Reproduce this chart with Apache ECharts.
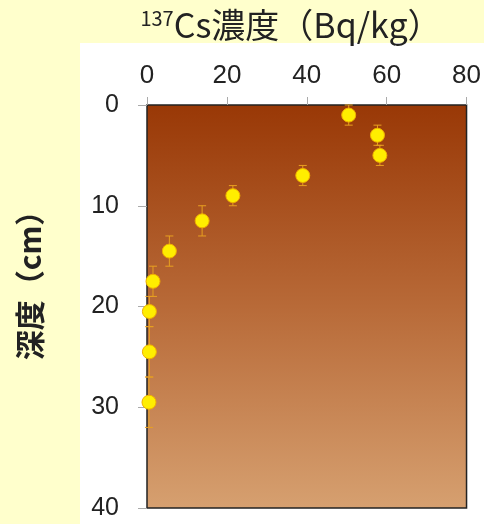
<!DOCTYPE html>
<html>
<head>
<meta charset="utf-8">
<script src="https://cdn.jsdelivr.net/npm/echarts@6/dist/echarts.min.js"></script>
<style>
html,body{margin:0;padding:0;background:#FFFFCC;}
#chart{width:484px;height:524px;}
</style>
</head>
<body>
<div id="chart"></div>
<script>
// Data
const concentration = [50.5, 57.7, 58.3, 39.0, 21.5, 13.8, 5.6, 1.5, 0.6, 0.6, 0.5]; // Bq/kg
const depth = [1.0, 3.0, 5.0, 7.0, 9.0, 11.5, 14.5, 17.5, 20.5, 24.5, 29.5]; // cm
const depthError = [1.0, 1.0, 1.0, 1.0, 1.0, 1.5, 1.5, 1.5, 1.5, 2.5, 2.5];
const xTicks = [0, 20, 40, 60, 80];
const yTicks = [0, 10, 20, 30, 40];

const points = concentration.map((c, i) => [c, depth[i]]);
const errData = concentration.map((c, i) => [c, depth[i] - depthError[i], depth[i] + depthError[i]]);

const chart = echarts.init(document.getElementById('chart'));
const labelFont = 'Liberation Sans, Arial, sans-serif';
chart.setOption({
  backgroundColor: '#FFFFCC',
  animation: false,
  graphic: [
    { type: 'rect', z: -10, shape: { x: 80, y: 43, width: 404, height: 481 }, style: { fill: '#FFFFFF' }, silent: true },
    {
      type: 'text', z: 10,
      x: 291, y: 25,
      style: {
        text: '{sup|137}{m|Cs濃度（Bq/kg）}',
        align: 'center', verticalAlign: 'middle',
        rich: {
          sup: { fontSize: 20, fill: '#222', fontFamily: 'Noto Sans CJK JP, sans-serif', verticalAlign: 'top', padding: [0, 0, 13, 0] },
          m: { fontSize: 34, fill: '#222', fontFamily: 'Noto Sans CJK JP, sans-serif' }
        }
      }
    },
    {
      type: 'text', z: 10,
      x: 30, y: 278, rotation: Math.PI / 2,
      style: {
        text: '深度（cm）', fontSize: 30, fontWeight: 'bold', fill: '#222',
        fontFamily: 'Noto Sans CJK JP, sans-serif', align: 'center', verticalAlign: 'middle'
      }
    }
  ],
  grid: {
    left: 147, top: 105, width: 321, height: 403,
    show: true,
    borderColor: '#222', borderWidth: 1.5,
    backgroundColor: new echarts.graphic.LinearGradient(0, 0, 0, 1, [
      { offset: 0, color: '#993806' },
      { offset: 0.5, color: '#B86A38' },
      { offset: 1, color: '#D6A070' }
    ])
  },
  xAxis: {
    type: 'value', position: 'top', min: xTicks[0], max: xTicks[xTicks.length - 1], interval: 20,
    axisLine: { show: false },
    axisTick: { show: true, inside: false, length: 8, lineStyle: { color: '#AAAAAA' } },
    splitLine: { show: false },
    axisLabel: { fontSize: 26, color: '#222', fontFamily: labelFont, margin: 16 }
  },
  yAxis: {
    type: 'value', inverse: true, min: yTicks[0], max: yTicks[yTicks.length - 1], interval: 10,
    axisLine: { show: false },
    axisTick: { show: true, inside: false, length: 9, lineStyle: { color: '#AAAAAA' } },
    splitLine: { show: false },
    axisLabel: { fontSize: 25, color: '#222', fontFamily: labelFont, margin: 28 }
  },
  series: [
    {
      type: 'custom',
      data: errData,
      z: 2,
      renderItem: function (params, api) {
        const x = api.value(0);
        const top = api.coord([x, api.value(1)]);
        const bot = api.coord([x, api.value(2)]);
        const cap = 4;
        const st = { stroke: '#E8A020', lineWidth: 1 };
        return {
          type: 'group',
          children: [
            { type: 'line', shape: { x1: top[0], y1: top[1], x2: bot[0], y2: bot[1] }, style: st },
            { type: 'line', shape: { x1: top[0] - cap, y1: top[1], x2: top[0] + cap, y2: top[1] }, style: st },
            { type: 'line', shape: { x1: bot[0] - cap, y1: bot[1], x2: bot[0] + cap, y2: bot[1] }, style: st }
          ]
        };
      }
    },
    {
      type: 'scatter',
      data: points,
      z: 3,
      symbol: 'circle',
      symbolSize: 14,
      itemStyle: { color: '#FFEE00', borderColor: '#F0B000', borderWidth: 1, opacity: 1 }
    }
  ]
});
</script>
</body>
</html>
